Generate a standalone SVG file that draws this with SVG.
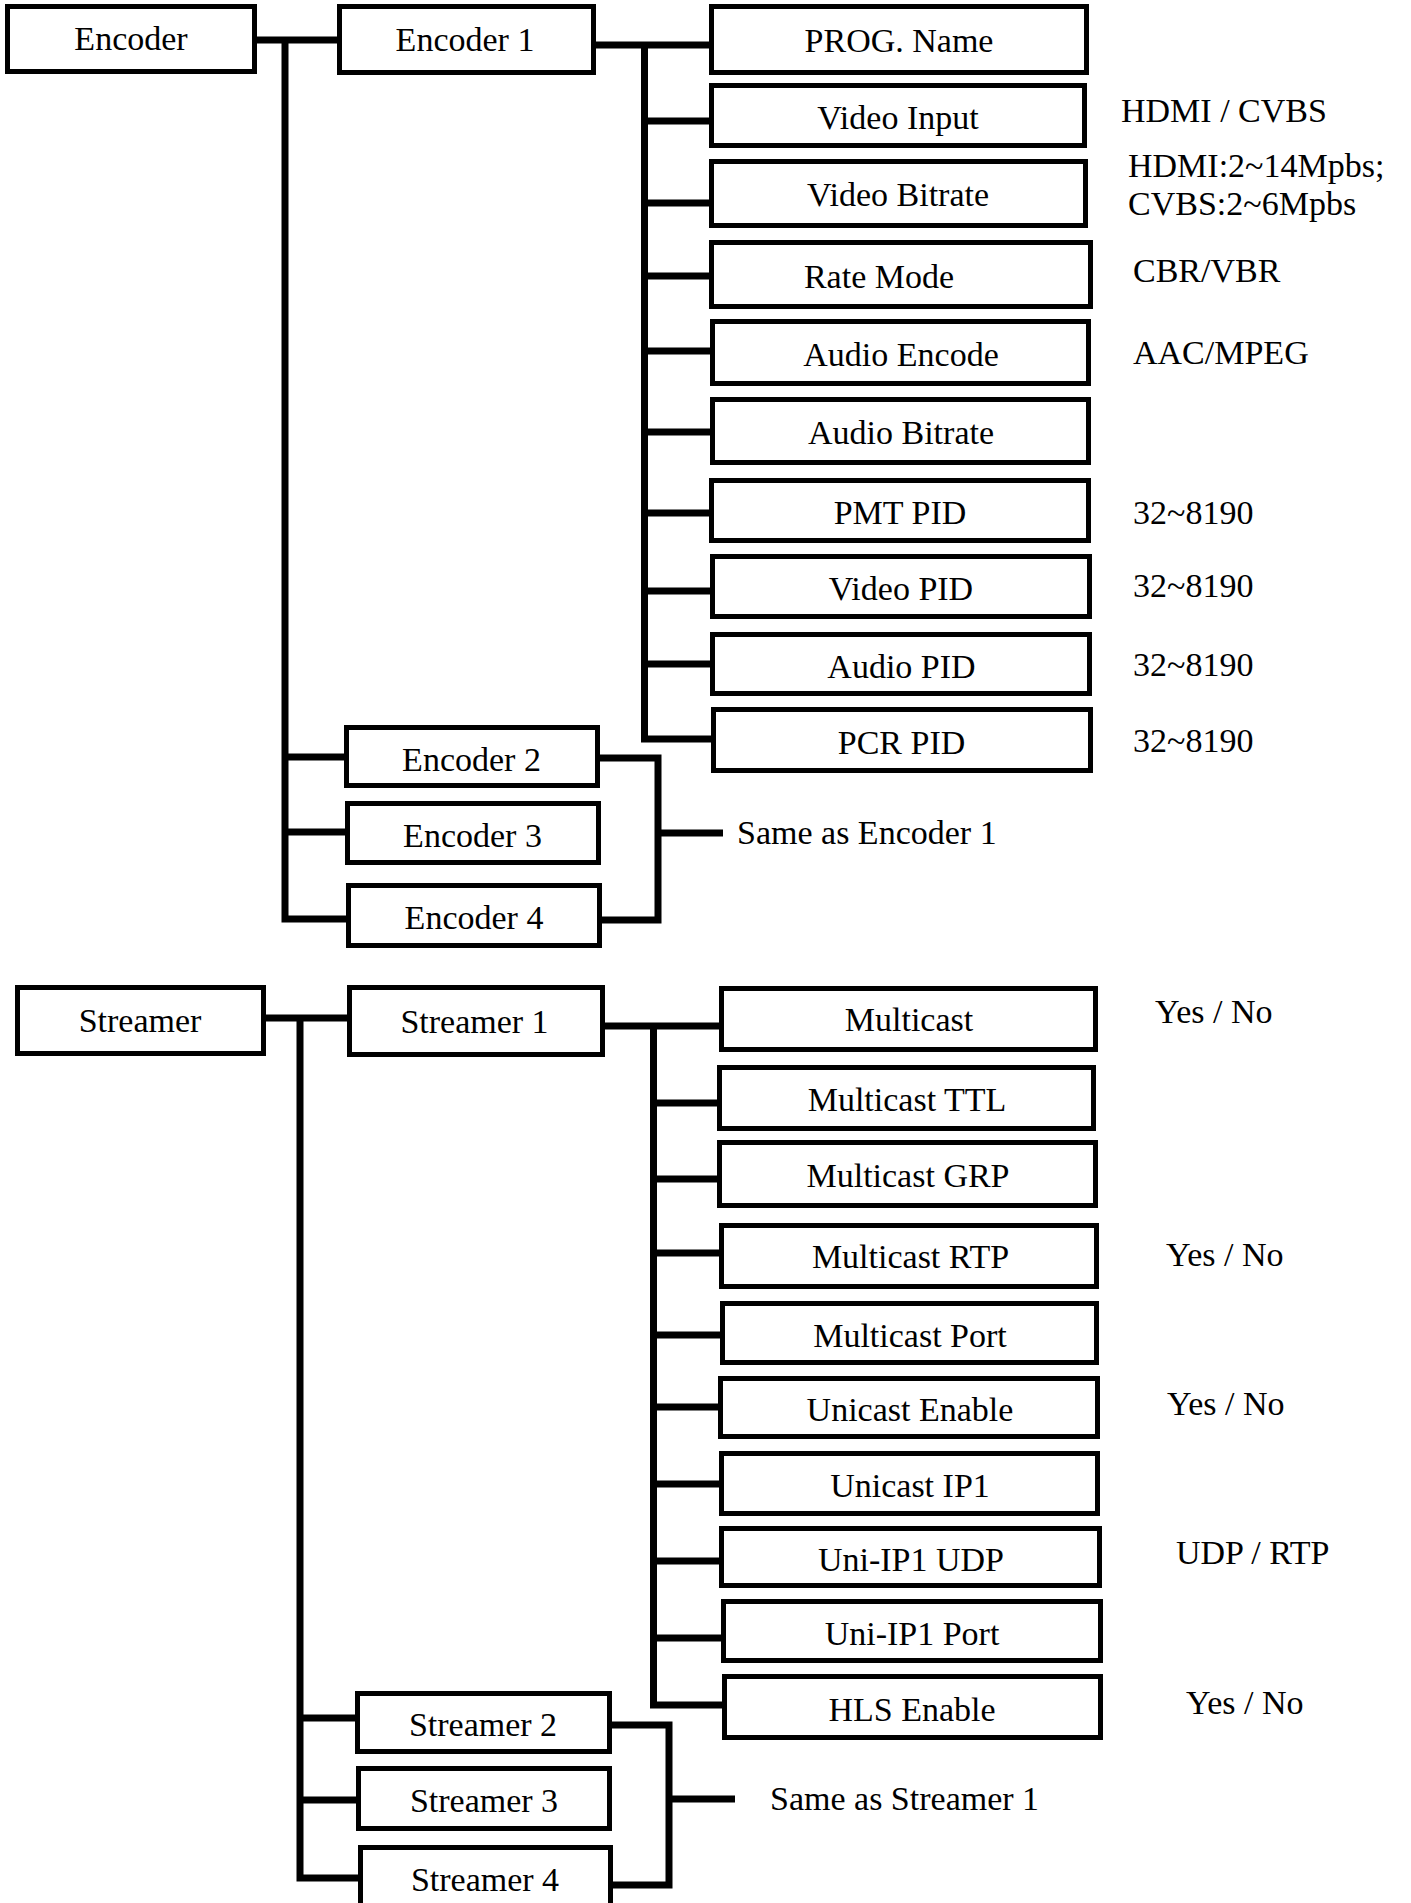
<svg xmlns="http://www.w3.org/2000/svg" width="1411" height="1903" viewBox="0 0 1411 1903">
<style>
.box{fill:#fff;stroke:#000;stroke-width:5}
.t{font-family:"Liberation Serif","Times New Roman",serif;font-size:34px;fill:#000;text-anchor:middle}
.a{font-family:"Liberation Serif","Times New Roman",serif;font-size:34px;fill:#000}
.c{fill:none;stroke:#000;stroke-width:7;stroke-linejoin:miter;stroke-linecap:butt}
</style>
<rect width="1411" height="1903" fill="#fff"/>
<g id="connectors">
<path class="c" d="M257 40 H337"/>
<path class="c" d="M285 40 V919 H346"/>
<path class="c" d="M285 757 H344"/>
<path class="c" d="M285 832 H345"/>
<path class="c" d="M596 45 H709"/>
<path class="c" d="M644.5 45 V739 H711"/>
<path class="c" d="M644.5 121 H709"/>
<path class="c" d="M644.5 203 H709"/>
<path class="c" d="M644.5 276 H709"/>
<path class="c" d="M644.5 351 H710"/>
<path class="c" d="M644.5 432 H712"/>
<path class="c" d="M644.5 513 H709"/>
<path class="c" d="M644.5 591 H710"/>
<path class="c" d="M644.5 664 H710"/>
<path class="c" d="M600 758 H658 V920 H602"/>
<path class="c" d="M658 833 H723"/>
<path class="c" d="M266 1018 H347"/>
<path class="c" d="M300 1018 V1878 H358"/>
<path class="c" d="M300 1718 H355"/>
<path class="c" d="M300 1800 H356"/>
<path class="c" d="M605 1026 H719"/>
<path class="c" d="M653.5 1026 V1705 H722"/>
<path class="c" d="M653.5 1103 H717"/>
<path class="c" d="M653.5 1179 H717"/>
<path class="c" d="M653.5 1253 H719"/>
<path class="c" d="M653.5 1335 H726"/>
<path class="c" d="M653.5 1407 H720"/>
<path class="c" d="M653.5 1484 H719"/>
<path class="c" d="M653.5 1561 H721"/>
<path class="c" d="M653.5 1638 H721"/>
<path class="c" d="M612 1725 H669 V1885 H612"/>
<path class="c" d="M669 1799 H735"/>
</g>
<g id="encoder"><rect class="box" x="7.5" y="6.5" width="247" height="65"/><text class="t" x="131" y="50">Encoder</text></g>
<g id="encoder1"><rect class="box" x="339.5" y="6.5" width="254" height="66"/><text class="t" x="465" y="51">Encoder 1</text></g>
<g id="prog-name"><rect class="box" x="711.5" y="6.5" width="375" height="66"/><text class="t" x="899" y="52">PROG. Name</text></g>
<g id="video-input"><rect class="box" x="711.5" y="85.5" width="373" height="60"/><text class="t" x="898" y="129">Video Input</text></g>
<g id="video-bitrate"><rect class="box" x="711.5" y="161.5" width="374" height="64"/><text class="t" x="898" y="206">Video Bitrate</text></g>
<g id="rate-mode"><rect class="box" x="711.5" y="242.5" width="379" height="64"/><text class="t" x="879" y="288">Rate Mode</text></g>
<g id="audio-encode"><rect class="box" x="712.5" y="321.5" width="376" height="62"/><text class="t" x="901" y="366">Audio Encode</text></g>
<g id="audio-bitrate"><rect class="box" x="712.5" y="399.5" width="376" height="63"/><text class="t" x="901" y="444">Audio Bitrate</text></g>
<g id="pmt-pid"><rect class="box" x="711.5" y="480.5" width="377" height="60"/><text class="t" x="900" y="524">PMT PID</text></g>
<g id="video-pid"><rect class="box" x="712.5" y="556.5" width="377" height="60"/><text class="t" x="901" y="600">Video PID</text></g>
<g id="audio-pid"><rect class="box" x="712.5" y="634.5" width="377" height="59"/><text class="t" x="901.5" y="678">Audio PID</text></g>
<g id="pcr-pid"><rect class="box" x="713.5" y="709.5" width="377" height="61"/><text class="t" x="901.5" y="754">PCR PID</text></g>
<g id="encoder2"><rect class="box" x="346.5" y="727.5" width="251" height="58"/><text class="t" x="471.5" y="771">Encoder 2</text></g>
<g id="encoder3"><rect class="box" x="347.5" y="803.5" width="251" height="59"/><text class="t" x="472.5" y="847">Encoder 3</text></g>
<g id="encoder4"><rect class="box" x="348.5" y="885.5" width="251" height="60"/><text class="t" x="474" y="929">Encoder 4</text></g>
<g id="enc-notes">
<text class="a" x="1121" y="122">HDMI / CVBS</text>
<text class="a" x="1128" y="177">HDMI:2~14Mpbs;</text>
<text class="a" x="1128" y="215">CVBS:2~6Mpbs</text>
<text class="a" x="1133" y="282">CBR/VBR</text>
<text class="a" x="1133" y="364">AAC/MPEG</text>
<text class="a" x="1133" y="524">32~8190</text>
<text class="a" x="1133" y="597">32~8190</text>
<text class="a" x="1133" y="676">32~8190</text>
<text class="a" x="1133" y="752">32~8190</text>
<text class="a" x="737" y="844">Same as Encoder 1</text>
</g>
<g id="streamer"><rect class="box" x="17.5" y="987.5" width="246" height="66"/><text class="t" x="140" y="1032">Streamer</text></g>
<g id="streamer1"><rect class="box" x="349.5" y="987.5" width="253" height="67"/><text class="t" x="474.5" y="1033">Streamer 1</text></g>
<g id="multicast"><rect class="box" x="721.5" y="988.5" width="374" height="61"/><text class="t" x="909" y="1031">Multicast</text></g>
<g id="multicast-ttl"><rect class="box" x="719.5" y="1067.5" width="374" height="61"/><text class="t" x="907" y="1111">Multicast TTL</text></g>
<g id="multicast-grp"><rect class="box" x="719.5" y="1142.5" width="376" height="63"/><text class="t" x="908" y="1187">Multicast GRP</text></g>
<g id="multicast-rtp"><rect class="box" x="721.5" y="1225.5" width="375" height="61"/><text class="t" x="910.5" y="1268">Multicast RTP</text></g>
<g id="multicast-port"><rect class="box" x="722.5" y="1303.5" width="374" height="59"/><text class="t" x="910" y="1347">Multicast Port</text></g>
<g id="unicast-enable"><rect class="box" x="720.5" y="1378.5" width="377" height="58"/><text class="t" x="910" y="1421">Unicast Enable</text></g>
<g id="unicast-ip1"><rect class="box" x="721.5" y="1453.5" width="376" height="60"/><text class="t" x="910" y="1497">Unicast IP1</text></g>
<g id="uni-ip1-udp"><rect class="box" x="721.5" y="1528.5" width="378" height="57"/><text class="t" x="911" y="1571">Uni-IP1 UDP</text></g>
<g id="uni-ip1-port"><rect class="box" x="723.5" y="1601.5" width="377" height="59"/><text class="t" x="912" y="1645">Uni-IP1 Port</text></g>
<g id="hls-enable"><rect class="box" x="724.5" y="1676.5" width="376" height="61"/><text class="t" x="912" y="1721">HLS Enable</text></g>
<g id="streamer2"><rect class="box" x="357.5" y="1693.5" width="252" height="58"/><text class="t" x="483" y="1736">Streamer 2</text></g>
<g id="streamer3"><rect class="box" x="358.5" y="1768.5" width="251" height="60"/><text class="t" x="484" y="1812">Streamer 3</text></g>
<g id="streamer4"><rect class="box" x="360.5" y="1847.5" width="250" height="64"/><text class="t" x="485" y="1891">Streamer 4</text></g>
<g id="str-notes">
<text class="a" x="1155" y="1023">Yes / No</text>
<text class="a" x="1166" y="1266">Yes / No</text>
<text class="a" x="1167" y="1415">Yes / No</text>
<text class="a" x="1176" y="1564">UDP / RTP</text>
<text class="a" x="1186" y="1714">Yes / No</text>
<text class="a" x="770" y="1810">Same as Streamer 1</text>
</g>
</svg>
